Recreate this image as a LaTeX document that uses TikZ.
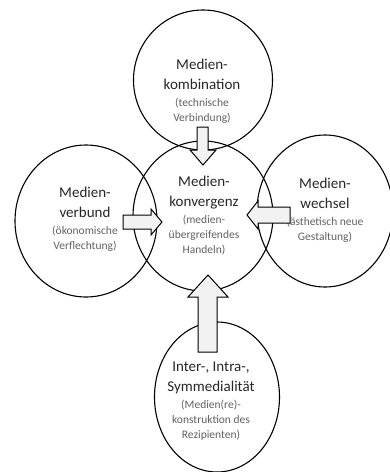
\documentclass[tikz,border=0pt]{standalone}
\usepackage{fontspec}
\setmainfont{Carlito}
\usetikzlibrary{shapes.geometric}
\newcommand{\unter}{\fontsize{11.5}{15}\selectfont\color{black!62}}
\tikzset{
  kreis/.style={draw,ellipse,line width=1.1pt,inner sep=0pt},
  beschr/.style={align=center,font=\fontsize{15}{20}\selectfont,text=black!85},
  pfeil/.style={draw,line width=1pt,fill=black!5,line join=miter}
}

\begin{document}
\begin{tikzpicture}[x=1pt,y=-1pt]
  \useasboundingbox (0,0) rectangle (390,472);
  % circles
  \node[kreis,minimum width=139pt,minimum height=140pt] (kombi) at (203,80) {};
  \node[kreis,minimum width=140pt,minimum height=150pt] (konv) at (203,216) {};
  \node[kreis,minimum width=142pt,minimum height=152pt] (verbund) at (86,221) {};
  \node[kreis,minimum width=136pt,minimum height=152pt] (wechsel) at (325,211) {};
  \node[kreis,minimum width=125pt,minimum height=150pt] (inter) at (217,397) {};
  % labels
  \node[beschr] (kombitxt) at (202,91) {Medien-\\kombination\\[-3pt]\unter (technische\\[-5pt]\unter Verbindung)};
  \node[beschr] (konvtxt) at (204,216) {Medien-\\konvergenz\\[-3pt]\unter (medien-\\[-5pt]\unter übergreifendes\\[-5pt]\unter Handeln)};
  \node[beschr] (verbundtxt) at (85,219) {Medien-\\verbund\\[-3pt]\unter (ökonomische\\[-5pt]\unter Verflechtung)};
  \node[beschr] (wechseltxt) at (325,210) {Medien-\\wechsel\\[-3pt]\unter (ästhetisch neue\\[-5pt]\unter Gestaltung)};
  \node[beschr] (intertxt) at (211,401) {Inter-, Intra-,\\Symmedialität\\[-3pt]\unter (Medien(re)-\\[-5pt]\unter konstruktion des\\[-5pt]\unter Rezipienten)};
  % block arrows
  \draw[pfeil] (197,127) -- (208,127) -- (208,150) -- (216,150) -- (203,165) -- (190,150) -- (197,150) -- cycle;
  \draw[pfeil] (123,215) -- (151,215) -- (151,209) -- (162,222) -- (151,235) -- (151,229) -- (123,229) -- cycle;
  \draw[pfeil] (290,207) -- (258,207) -- (258,201) -- (247,215) -- (258,229) -- (258,223) -- (290,223) -- cycle;
  \draw[pfeil] (198,352) -- (198,297) -- (188,297) -- (208,275) -- (228,297) -- (217,297) -- (217,352) -- cycle;
\end{tikzpicture}
\end{document}
